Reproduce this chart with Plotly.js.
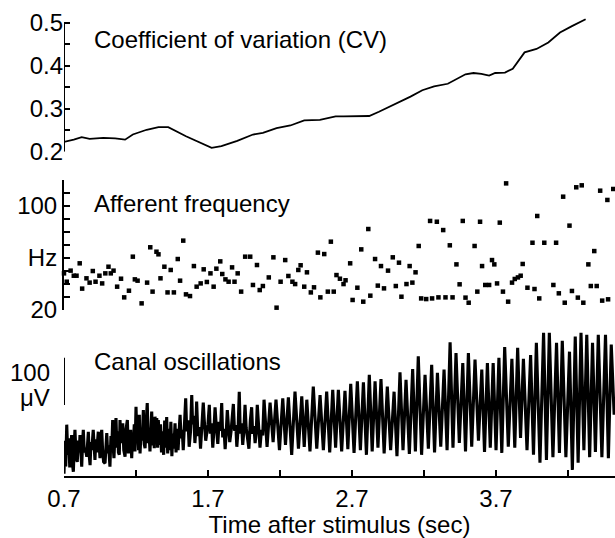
<!DOCTYPE html>
<html>
<head>
<meta charset="utf-8">
<script src="https://cdn.plot.ly/plotly-3.0.1.min.js"></script>
<style>html,body{margin:0;padding:0;background:#fff;}#chart{width:615px;height:538px;}</style>
</head>
<body>
<div id="chart"></div>
<script>
// ---- Coefficient of variation (top panel)
const cvTime = [0.700,0.768,0.823,0.878,0.973,1.055,1.124,1.178,1.274,1.356,1.424,1.547,1.725,1.793,1.903,2.012,2.081,2.176,2.272,2.368,2.477,2.586,2.641,2.723,2.819,2.887,2.969,3.106,3.188,3.270,3.365,3.488,3.543,3.598,3.652,3.694,3.762,3.816,3.898,3.981,4.063,4.144,4.227,4.322];
const cvValue = [0.223,0.228,0.234,0.230,0.232,0.231,0.228,0.240,0.251,0.257,0.257,0.236,0.209,0.213,0.225,0.240,0.244,0.255,0.261,0.273,0.274,0.282,0.282,0.282,0.283,0.293,0.306,0.328,0.343,0.352,0.358,0.380,0.383,0.381,0.377,0.383,0.384,0.393,0.431,0.439,0.454,0.477,0.492,0.508];

// ---- Afferent frequency (middle panel)
const freqTime = [0.700,0.719,0.746,0.768,0.787,0.809,0.826,0.856,0.878,0.900,0.919,0.946,0.965,0.987,1.009,1.025,1.044,1.069,1.096,1.118,1.151,1.178,1.192,1.211,1.239,1.277,1.299,1.315,1.342,1.356,1.370,1.397,1.419,1.441,1.463,1.490,1.506,1.528,1.547,1.575,1.602,1.621,1.649,1.670,1.692,1.717,1.739,1.758,1.785,1.799,1.821,1.843,1.867,1.884,1.906,1.930,1.958,1.993,2.012,2.040,2.059,2.081,2.122,2.154,2.176,2.204,2.236,2.258,2.286,2.305,2.327,2.343,2.368,2.387,2.414,2.436,2.463,2.480,2.507,2.532,2.553,2.573,2.592,2.616,2.641,2.655,2.687,2.704,2.737,2.764,2.778,2.813,2.827,2.860,2.879,2.901,2.922,2.950,2.983,3.004,3.026,3.043,3.078,3.100,3.119,3.141,3.163,3.180,3.215,3.242,3.256,3.289,3.300,3.333,3.349,3.379,3.398,3.425,3.447,3.469,3.488,3.510,3.551,3.570,3.589,3.603,3.625,3.652,3.672,3.688,3.707,3.726,3.748,3.770,3.784,3.811,3.830,3.852,3.871,3.885,3.918,3.953,3.967,3.986,4.000,4.035,4.049,4.098,4.117,4.136,4.166,4.177,4.210,4.227,4.257,4.268,4.295,4.306,4.341,4.358,4.382,4.399,4.423,4.437,4.473,4.478,4.514];
const freqHz = [48.1,41.7,50.2,46.3,46.3,55.8,36.4,44.3,41.0,49.9,41.7,46.3,40.4,48.1,53.2,48.1,50.2,37.9,44.0,29.7,34.8,60.9,43.5,42.5,25.1,41.0,68.1,34.1,64.7,62.7,44.3,53.2,33.5,50.7,33.5,59.1,42.5,73.2,32.0,30.7,53.7,37.9,40.4,51.2,41.5,48.1,37.9,51.7,57.3,47.6,43.5,41.7,52.7,41.7,48.1,34.1,60.9,60.9,39.2,54.5,35.3,38.4,45.0,60.4,21.8,41.7,58.3,46.1,41.7,39.9,50.7,54.3,37.9,48.9,33.5,37.4,64.0,29.7,62.9,34.1,72.4,34.1,46.8,44.0,39.9,42.8,55.8,27.7,37.1,66.5,26.4,82.1,31.0,59.1,38.7,53.7,36.6,50.2,60.4,38.4,56.3,30.2,39.9,53.7,41.0,48.9,69.1,28.9,28.4,88.3,28.9,87.7,29.7,81.3,29.7,69.6,29.7,55.0,39.7,88.3,29.5,25.6,69.1,34.1,87.7,53.7,39.2,39.2,58.3,55.0,40.4,87.0,34.1,117.1,26.4,41.0,43.8,45.0,46.3,55.3,37.1,71.6,36.1,92.1,28.9,71.6,18.7,39.2,71.6,32.8,106.9,25.6,84.7,34.6,114.1,29.5,115.6,25.6,55.0,38.4,65.2,38.4,111.5,27.2,104.4,28.2,112.8];

// ---- Canal oscillations (bottom panel), microvolts above the time axis
const canalTimeEarly = [0.700,0.706,0.712,0.719,0.726,0.733,0.740,0.747,0.753,0.759,0.765,0.771,0.776,0.784,0.792,0.800,0.806,0.811,0.817,0.823,0.829,0.834,0.841,0.848,0.858,0.864,0.869,0.875,0.881,0.887,0.893,0.903,0.909,0.915,0.921,0.927,0.938,0.944,0.950,0.956,0.962,0.968,0.975,0.985,0.991,0.997,1.003,1.010,1.019,1.026,1.032,1.038,1.043,1.047,1.054,1.061,1.067,1.073,1.078,1.084,1.089,1.095,1.101,1.108,1.115,1.124,1.131,1.140,1.147,1.153,1.158,1.163,1.170,1.177,1.182,1.188,1.193,1.200,1.207,1.213,1.218,1.223,1.228,1.236,1.243,1.251,1.257,1.263,1.270,1.278,1.285,1.290,1.297,1.303,1.309,1.316,1.322,1.327,1.332,1.340,1.344,1.350,1.355,1.362,1.370,1.377,1.385,1.392,1.399,1.406,1.413,1.420,1.428,1.435,1.442,1.449,1.456,1.463,1.471,1.478,1.485,1.492];
const canalUVEarly = [5,75,20,109,45,80,18,70,87,25,9,65,98,40,30,75,50,87,28,20,70,98,50,60,41,80,94,45,23,72,55,98,40,34,78,50,94,45,38,80,98,55,30,27,75,91,48,65,20,85,60,119,55,38,90,123,60,95,50,45,119,70,95,112,55,41,100,119,48,80,60,98,38,90,70,110,52,147,70,90,55,130,48,100,75,140,68,59,110,155,70,95,52,100,137,65,85,59,126,70,123,60,119,66,110,50,95,45,118,60,125,48,100,55,115,42,90,58,112,50,100,55];
const canalTimeMid = [1.506,1.513,1.521,1.528,1.537,1.545,1.552,1.561,1.569,1.578,1.587,1.593,1.601,1.609,1.615,1.621,1.630,1.640,1.648,1.657,1.667,1.674,1.684,1.691,1.700,1.709,1.716,1.725,1.733,1.741,1.749,1.757,1.768,1.777,1.786,1.795,1.802,1.811,1.819,1.826,1.834,1.842,1.851,1.860,1.868,1.876,1.884,1.893,1.900,1.909,1.917,1.924,1.933,1.941,1.949,1.957,1.965,1.975,1.984,1.994,2.003,2.010,2.019,2.027,2.035,2.042,2.051,2.061,2.071,2.080,2.089];
const canalUVMid = [130,80,98,55,120,165,95,118,62,92,172,110,128,70,98,158,85,104,58,120,156,118,75,90,110,151,90,112,60,98,146,108,68,115,96,155,82,100,57,90,140,105,72,95,118,153,96,108,62,100,179,90,112,66,96,151,102,80,58,118,146,90,106,70,95,151,110,60,98,86,162];
const canalTimeLate = [2.110,2.131,2.152,2.172,2.196,2.219,2.238,2.258,2.281,2.304,2.328,2.351,2.368,2.386,2.408,2.431,2.455,2.478,2.501,2.524,2.545,2.566,2.586,2.605,2.628,2.651,2.671,2.691,2.714,2.737,2.758,2.779,2.800,2.820,2.840,2.860,2.880,2.901,2.923,2.945,2.968,2.992,3.012,3.033,3.054,3.075,3.098,3.121,3.140,3.160,3.183,3.207,3.230,3.253,3.273,3.293,3.316,3.339,3.360,3.381,3.401,3.422,3.445,3.469,3.488,3.508,3.531,3.554,3.578,3.601,3.620,3.640,3.660,3.680,3.700,3.720,3.740,3.760,3.785,3.810,3.830,3.850,3.870,3.890,3.915,3.940,3.960,3.980,4.005,4.030,4.050,4.070,4.095,4.120,4.140,4.160,4.185,4.210,4.230,4.250,4.270,4.290,4.310,4.330,4.350,4.370,4.390,4.410,4.435,4.460,4.480,4.500,4.520];
const canalUVLate = [62,156,72,162,55,165,66,167,45,179,58,169,62,162,52,190,58,172,55,179,50,183,60,183,52,181,57,196,49,201,55,199,45,215,52,201,60,206,48,190,55,179,42,220,55,204,47,227,52,254,45,215,58,236,50,219,62,226,55,284,60,261,70,240,52,261,62,247,75,226,51,240,60,240,55,251,49,274,62,249,60,272,81,249,55,257,45,283,28,304,34,304,40,283,49,287,40,264,13,296,28,304,55,300,40,283,51,300,40,300,38,279,130];

// ---- Ticks and labels
const xTickVals = [0.7,1.2,1.7,2.2,2.7,3.2,3.7,4.2];
const xTickText = ['0.7','','1.7','','2.7','','3.7',''];
const cvTickVals = [0.2,0.25,0.3,0.35,0.4,0.45,0.5];
const cvTickText = ['0.2','','0.3','','0.4','','0.5'];
const freqTickVals = [20,30,40,50,60,70,80,90,100,110,120];
const freqTickText = ['20','','','','Hz','','','','100','',''];
const scaleBarUV = [151,251];
const panelTitles = ['Coefficient of variation (CV)','Afferent frequency','Canal oscillations'];

const canalTime = canalTimeEarly.concat(canalTimeMid, canalTimeLate);
const canalUV = canalUVEarly.concat(canalUVMid, canalUVLate);

const FONT = 'Liberation Sans, Arial, Helvetica, sans-serif';
const INK = '#000';
const TICK_SIZE = 24;
const TITLE_SIZE = 24;

const traces = [
  {x: cvTime, y: cvValue, xaxis:'x', yaxis:'y3', mode:'lines', line:{color:INK, width:1.8}, hoverinfo:'skip'},
  {x: freqTime, y: freqHz, xaxis:'x', yaxis:'y2', mode:'markers', cliponaxis:false,
   marker:{symbol:'square', size:4.5, color:INK, line:{width:0}}, hoverinfo:'skip'},
  {x: canalTime, y: canalUV, xaxis:'x', yaxis:'y', mode:'lines', line:{color:INK, width:3.1}, hoverinfo:'skip'}
];

const commonY = {showgrid:false, zeroline:false, ticks:'inside', ticklen:6, tickwidth:2, tickcolor:INK,
  linecolor:INK, linewidth:2, tickfont:{size:TICK_SIZE, family:FONT, color:INK}, anchor:'x', fixedrange:true};

const layout = {
  width:615, height:538,
  margin:{l:64, r:0, t:0, b:62, pad:0},
  paper_bgcolor:'#fff', plot_bgcolor:'#fff',
  showlegend:false,
  font:{family:FONT, size:TICK_SIZE, color:INK},
  xaxis:{domain:[0,1], range:[0.7,4.526], anchor:'y', showline:true, linewidth:2, linecolor:INK,
    ticks:'inside', ticklen:6, tickwidth:2, tickcolor:INK, tickvals:xTickVals, ticktext:xTickText,
    tickfont:{size:TICK_SIZE, family:FONT, color:INK}, showgrid:false, zeroline:false, fixedrange:true,
    title:{text:'Time after stimulus (sec)', font:{size:TITLE_SIZE, family:FONT, color:INK}, standoff:0}},
  yaxis:{domain:[0,0.3067], range:[0,310], visible:false, fixedrange:true},
  yaxis2:Object.assign({}, commonY, {domain:[0.3487,0.6227], range:[20,120], showline:true,
    tickvals:freqTickVals, ticktext:freqTickText}),
  yaxis3:Object.assign({}, commonY, {domain:[0.6813,0.9704], range:[0.2,0.52], showline:false,
    tickvals:cvTickVals, ticktext:cvTickText}),
  shapes:[
    {type:'line', xref:'x', yref:'y3', x0:0.7, x1:0.7, y0:cvTickVals[0], y1:cvTickVals[cvTickVals.length-1], line:{color:INK, width:2}},
    {type:'line', xref:'x', yref:'y', x0:0.7, x1:0.7, y0:scaleBarUV[0], y1:scaleBarUV[1], line:{color:INK, width:2}}
  ],
  annotations:[
    {text:panelTitles[0], xref:'paper', yref:'paper', x:0.0508, y:0.916, xanchor:'left', yanchor:'middle', showarrow:false, font:{size:TITLE_SIZE, family:FONT, color:INK}},
    {text:panelTitles[1], xref:'paper', yref:'paper', x:0.0508, y:0.5735, xanchor:'left', yanchor:'middle', showarrow:false, font:{size:TITLE_SIZE, family:FONT, color:INK}},
    {text:panelTitles[2], xref:'paper', yref:'paper', x:0.0508, y:0.2395, xanchor:'left', yanchor:'middle', showarrow:false, font:{size:TITLE_SIZE, family:FONT, color:INK}},
    {text:'100', xref:'paper', yref:'paper', x:-0.022, y:0.2164, xanchor:'right', yanchor:'middle', showarrow:false, font:{size:TICK_SIZE, family:FONT, color:INK}},
    {text:'\u03bcV', xref:'paper', yref:'paper', x:-0.022, y:0.1639, xanchor:'right', yanchor:'middle', showarrow:false, font:{size:TICK_SIZE, family:FONT, color:INK}}
  ]
};

Plotly.newPlot('chart', traces, layout, {staticPlot:true, displayModeBar:false});
</script>
</body>
</html>
